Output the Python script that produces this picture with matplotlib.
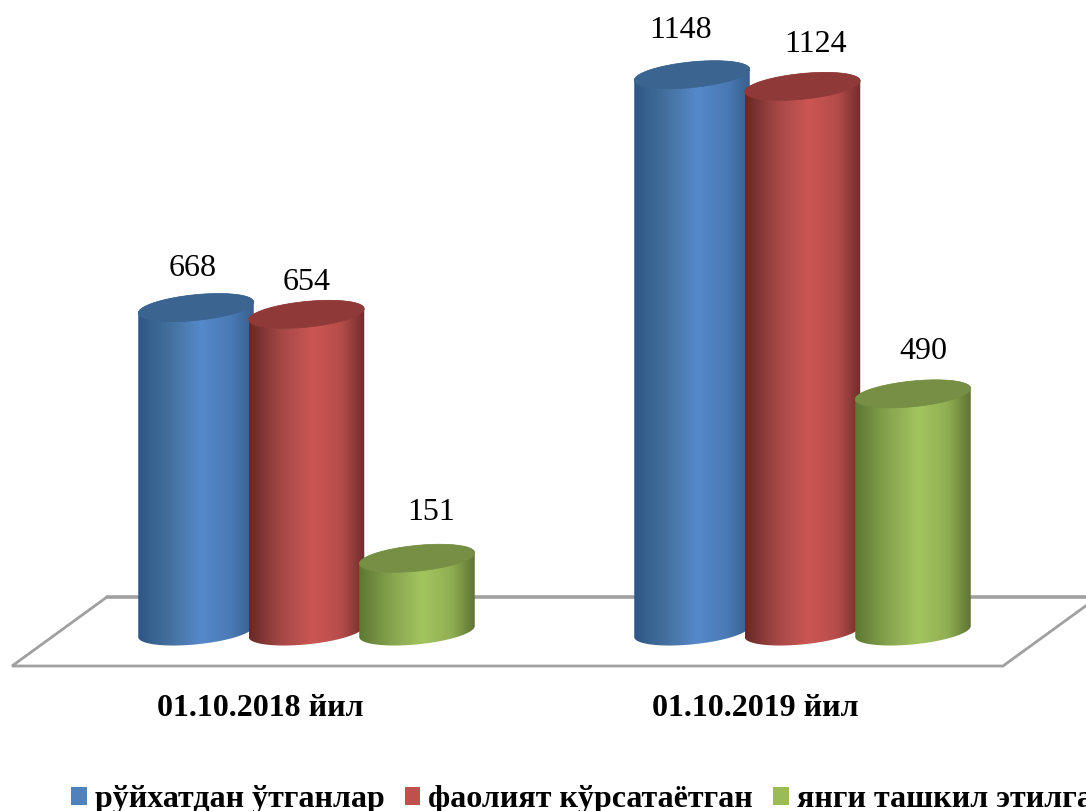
import numpy as np
import matplotlib
matplotlib.use('Agg')
import matplotlib.pyplot as plt
from matplotlib.colors import LinearSegmentedColormap
from matplotlib.patches import Patch, PathPatch
from matplotlib.path import Path

categorias = ['01.10.2018 йил', '01.10.2019 йил']
series = ['рўйхатдан ўтганлар', 'фаолият кўрсатаётган', 'янги ташкил этилганлар']
valores = [[668, 1148], [654, 1124], [151, 490]]

cores = ['#4f81bd', '#c0504d', '#9bbb59']
cores_topo = ['#3b6490', '#8f3a39', '#768f44']
gradientes = [
    ['#2f5684', '#44719f', '#5589ca', '#4a7ab5', '#385f8e'],
    ['#662827', '#a64846', '#cc5653', '#b54c4a', '#702c2b'],
    ['#5d7732', '#86a44e', '#a3c55f', '#90ae53', '#5e7531'],
]
paradas = [0.0, 0.28, 0.55, 0.8, 1.0]

# escalas em pixels da figura
px_x = 496.0      # pixels entre os grupos
px_y = 0.485      # pixels por unidade
x0_px = 306.5     # centro do primeiro grupo
y0_px = 631.5     # base das colunas

plt.rcParams['font.family'] = ['Liberation Serif', 'DejaVu Serif']

fig = plt.figure(figsize=(10.86, 8.11), dpi=100)
ax = fig.add_axes([0, 0, 1, 1])
ax.axis('off')

def dx(p):
    return p / px_x

def dy(p):
    return p / px_y

def px(x, y):
    return (x - x0_px) / px_x, (y0_px - y) / px_y

xlim = (px(0, 0)[0], px(1086, 0)[0])
ylim = (px(0, 811)[1], px(0, 0)[1])

# chão
chao = [(107, 597), (1098, 597), (1003, 666), (12, 666), (107, 597), (1098, 597)]
ax.plot(*zip(*[px(a, b) for a, b in chao]), color='#a0a0a0', lw=2, zorder=1,
        solid_joinstyle='miter')

largura = dx(115.5)
passo = dx(110.5)
t = np.linspace(0, 2 * np.pi, 121)

def elipse(cx, y, ang):
    xs = cx + largura / 2 * np.cos(ang)
    ys = y + dy(12.9) * np.sin(ang) + dy(5.5) * np.cos(ang)
    return xs, ys

z = 2
for g in range(len(categorias)):
    for s in range(len(series)):
        v = valores[s][g]
        cx = g + (s - 1) * passo

        # corpo do cilindro: metade de baixo da base, metade de cima do topo
        a_base = np.linspace(np.pi, 2 * np.pi, 60)
        xb, yb = elipse(cx, 0, a_base)
        a_topo = np.linspace(0, np.pi, 60)
        xt, yt = elipse(cx, v, a_topo)
        pts = np.column_stack([np.r_[xb, xt], np.r_[yb, yt]])
        cmap = LinearSegmentedColormap.from_list('g', list(zip(paradas, gradientes[s])))
        clip = PathPatch(Path(np.vstack([pts, pts[0]])), fc='none', ec='none', transform=ax.transData)
        ax.add_patch(clip)
        im = ax.imshow(np.linspace(0, 1, 256)[None, :], cmap=cmap, aspect='auto',
                       extent=(cx - largura / 2, cx + largura / 2, yb.min(), v + dy(20)),
                       zorder=z, interpolation='bilinear')
        im.set_clip_path(clip)

        xe, ye = elipse(cx, v, t)
        ax.fill(xe, ye, color=cores_topo[s], lw=0.5, zorder=z + 0.5)
        z += 1

# rótulos dos valores
off_x = [[-3, -11], [0.5, 13], [14, 10]]
off_y = [[39, 44], [32, 41.5], [45.5, 42.5]]
for s in range(len(series)):
    for g in range(len(categorias)):
        v = valores[s][g]
        ax.text(g + (s - 1) * passo + dx(off_x[s][g]), v + dy(off_y[s][g]), str(v),
                ha='center', va='center', fontsize=23, color='black', zorder=50)

# categorias
for g, c in enumerate(categorias):
    lx, ly = px([260, 755][g], 708)
    ax.text(lx, ly, c, ha='center', va='center', fontsize=23, fontweight='bold', color='black')

ax.set_xlim(xlim)
ax.set_ylim(ylim)

handles = [Patch(facecolor=c, edgecolor='none') for c in cores]
fig.legend(handles, series, ncol=3, loc='lower left', bbox_to_anchor=(71 / 1086, -3 / 811),
           frameon=False, prop={'weight': 'bold', 'size': 23},
           handlelength=0.5, handleheight=0.5, handletextpad=0.25, columnspacing=0.62,
           borderpad=0, borderaxespad=0)

plt.savefig('out.png', dpi=100)
